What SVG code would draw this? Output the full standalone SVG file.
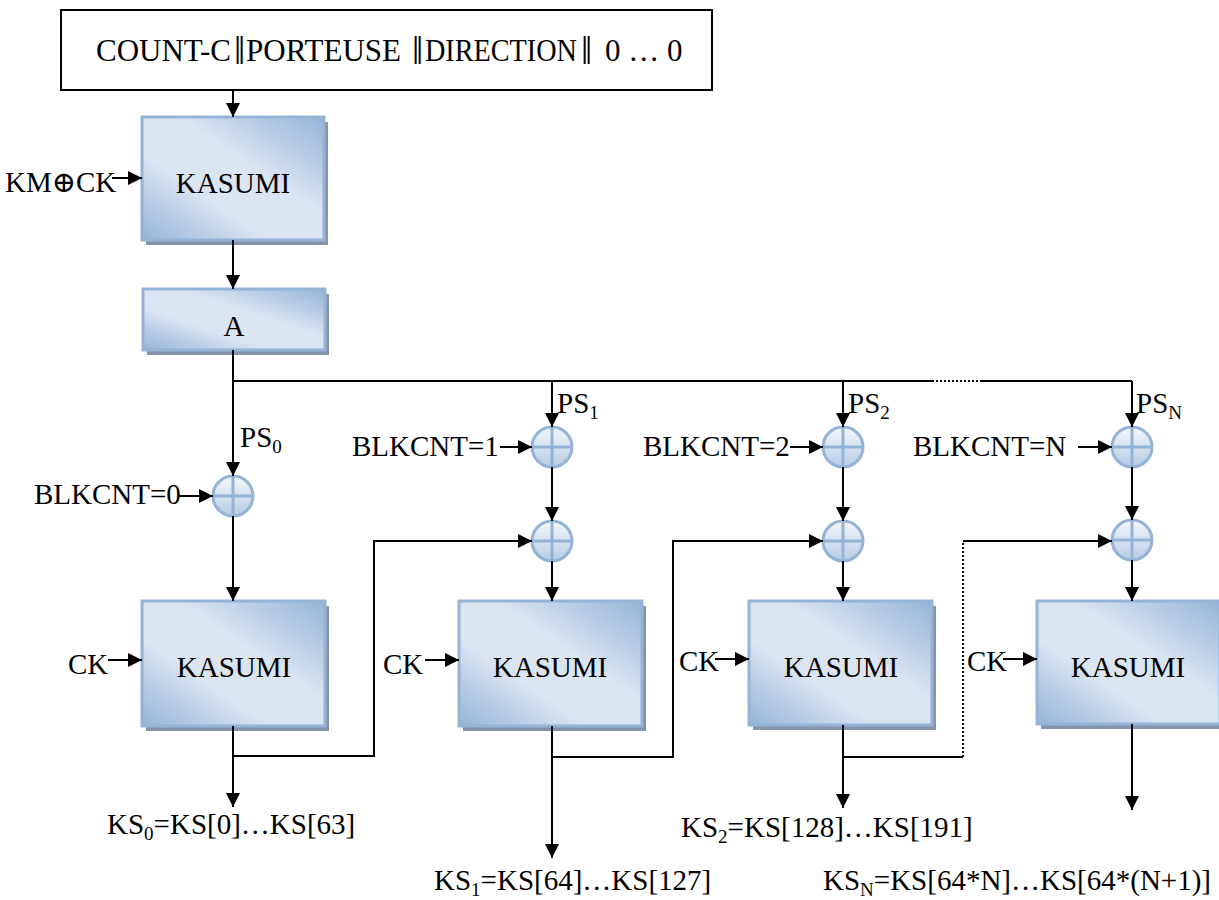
<svg xmlns="http://www.w3.org/2000/svg" width="1219" height="900" viewBox="0 0 1219 900">
<style>
text{font-family:'Liberation Serif','Tinos','DejaVu Serif',serif;font-size:29px;fill:#000}
.sub{font-size:19px}
.hd{font-size:31px}
.bar{font-size:40px}
.ln{stroke:#000;stroke-width:2;fill:none}
.dot{stroke:#000;stroke-width:2;fill:none;stroke-dasharray:2 2}
.box{fill:url(#bg);stroke:#95b3d7;stroke-width:3}
.sh{fill:#8594a8}
.xc{fill:url(#xg);stroke:#95b3d7;stroke-width:3}
.xl{stroke:#95b3d7;stroke-width:3}
</style>
<defs>
<linearGradient id="bg" x1="0" y1="1" x2="1" y2="0">
<stop offset="0" stop-color="#95b3d7"/>
<stop offset="0.35" stop-color="#dbe4f1"/>
<stop offset="0.6" stop-color="#dbe4f1"/>
<stop offset="1" stop-color="#95b3d7"/>
</linearGradient>
<linearGradient id="xg" x1="0" y1="0" x2="0" y2="1">
<stop offset="0" stop-color="#f4f7fb"/>
<stop offset="1" stop-color="#b8cce4"/>
</linearGradient>
<marker id="ar" viewBox="0 0 14 14" refX="14" refY="7" markerWidth="14" markerHeight="14" markerUnits="userSpaceOnUse" orient="auto">
<path d="M0,0 L14,7 L0,14 Z" fill="#000"/>
</marker>
</defs>

<g id="header">
<rect x="61" y="10" width="651" height="80" fill="#fff" stroke="#000" stroke-width="2"/>
<text class="hd" y="61"><tspan x="96">COUNT-C</tspan><tspan class="bar" x="234" dy="3">‖</tspan><tspan x="246" dy="-3" textLength="155" lengthAdjust="spacingAndGlyphs">PORTEUSE</tspan><tspan class="bar" x="412" dy="3">‖</tspan><tspan x="425" dy="-3" textLength="152" lengthAdjust="spacingAndGlyphs">DIRECTION</tspan><tspan class="bar" x="581" dy="3">‖</tspan><tspan x="605" dy="-3">0 … 0</tspan></text>
</g>

<g id="kasumi0">
<rect class="sh" x="146" y="122" width="182" height="123"/>
<rect class="box" x="142" y="117" width="182" height="123"/>
<text x="233" y="193" text-anchor="middle">KASUMI</text>
</g>
<g id="boxA">
<rect class="sh" x="147" y="294" width="182" height="61"/>
<rect class="box" x="143" y="289" width="182" height="61"/>
<text x="234" y="336" text-anchor="middle">A</text>
</g>

<g id="kasumi1">
<rect class="sh" x="146" y="606" width="183" height="125"/>
<rect class="box" x="142" y="601" width="183" height="125"/>
<text x="234" y="677" text-anchor="middle">KASUMI</text>
</g>
<g id="kasumi2">
<rect class="sh" x="463" y="606" width="183" height="125"/>
<rect class="box" x="459" y="601" width="183" height="125"/>
<text x="550" y="677" text-anchor="middle">KASUMI</text>
</g>
<g id="kasumi3">
<rect class="sh" x="753" y="606" width="183" height="124"/>
<rect class="box" x="749" y="601" width="183" height="124"/>
<text x="841" y="677" text-anchor="middle">KASUMI</text>
</g>
<g id="kasumi4">
<rect class="sh" x="1041" y="606" width="183" height="123"/>
<rect class="box" x="1037" y="601" width="183" height="123"/>
<text x="1128" y="677" text-anchor="middle">KASUMI</text>
</g>

<g id="xor0"><circle class="xc" cx="233" cy="496" r="20"/><path class="xl" d="M213,496H253M233,476V516"/></g>
<g id="xor1a"><circle class="xc" cx="552" cy="447" r="20"/><path class="xl" d="M532,447H572M552,427V467"/></g>
<g id="xor1b"><circle class="xc" cx="552" cy="541" r="20"/><path class="xl" d="M532,541H572M552,521V561"/></g>
<g id="xor2a"><circle class="xc" cx="843" cy="447" r="20"/><path class="xl" d="M823,447H863M843,427V467"/></g>
<g id="xor2b"><circle class="xc" cx="843" cy="541" r="20"/><path class="xl" d="M823,541H863M843,521V561"/></g>
<g id="xorNa"><circle class="xc" cx="1132" cy="447" r="20"/><path class="xl" d="M1112,447H1152M1132,427V467"/></g>
<g id="xorNb"><circle class="xc" cx="1132" cy="540" r="20"/><path class="xl" d="M1112,540H1152M1132,520V560"/></g>

<g id="connectors">
<path class="ln" d="M233,90V117" marker-end="url(#ar)"/>
<path class="ln" d="M112,178H142" marker-end="url(#ar)"/>
<path class="ln" d="M233,240V289" marker-end="url(#ar)"/>
<path class="ln" d="M233,350V476" marker-end="url(#ar)"/>
<path class="ln" d="M233,381H932"/>
<path class="dot" d="M932,381H980"/>
<path class="ln" d="M980,381H1132"/>
<path class="ln" d="M552,381V427" marker-end="url(#ar)"/>
<path class="ln" d="M843,381V427" marker-end="url(#ar)"/>
<path class="ln" d="M1132,381V427" marker-end="url(#ar)"/>
<path class="ln" d="M178,496H213" marker-end="url(#ar)"/>
<path class="ln" d="M500,447H532" marker-end="url(#ar)"/>
<path class="ln" d="M790,447H823" marker-end="url(#ar)"/>
<path class="ln" d="M1078,447H1112" marker-end="url(#ar)"/>
<path class="ln" d="M552,467V521" marker-end="url(#ar)"/>
<path class="ln" d="M843,467V521" marker-end="url(#ar)"/>
<path class="ln" d="M1132,467V520" marker-end="url(#ar)"/>
<path class="ln" d="M233,516V601" marker-end="url(#ar)"/>
<path class="ln" d="M552,561V601" marker-end="url(#ar)"/>
<path class="ln" d="M843,561V601" marker-end="url(#ar)"/>
<path class="ln" d="M1132,560V601" marker-end="url(#ar)"/>
<path class="ln" d="M108,660H142" marker-end="url(#ar)"/>
<path class="ln" d="M425,660H459" marker-end="url(#ar)"/>
<path class="ln" d="M715,659H749" marker-end="url(#ar)"/>
<path class="ln" d="M1003,659H1037" marker-end="url(#ar)"/>
<path class="ln" d="M233,726V807" marker-end="url(#ar)"/>
<path class="ln" d="M552,726V858" marker-end="url(#ar)"/>
<path class="ln" d="M843,725V808" marker-end="url(#ar)"/>
<path class="ln" d="M1132,724V810" marker-end="url(#ar)"/>
<path class="ln" d="M233,756H374V541H532" marker-end="url(#ar)"/>
<path class="ln" d="M552,757H673V541H823" marker-end="url(#ar)"/>
<path class="ln" d="M843,757H963"/>
<path class="dot" d="M963,757V541"/>
<path class="ln" d="M963,541H1112" marker-end="url(#ar)"/>
</g>

<g id="labels">
<text x="5" y="192">KM⊕CK</text>
<text x="240" y="447">PS<tspan class="sub" dy="6">0</tspan></text>
<text x="557" y="413">PS<tspan class="sub" dy="6">1</tspan></text>
<text x="848" y="413">PS<tspan class="sub" dy="6">2</tspan></text>
<text x="1136" y="413">PS<tspan class="sub" dy="6">N</tspan></text>
<text x="34" y="504">BLKCNT=0</text>
<text x="352" y="456">BLKCNT=1</text>
<text x="643" y="456">BLKCNT=2</text>
<text x="913" y="456">BLKCNT=N</text>
<text x="68" y="674">CK</text>
<text x="383" y="674">CK</text>
<text x="679" y="671">CK</text>
<text x="967" y="671">CK</text>
<text x="107" y="834">KS<tspan class="sub" dy="6">0</tspan><tspan dy="-6">=KS[0]…KS[63]</tspan></text>
<text x="434" y="890">KS<tspan class="sub" dy="6">1</tspan><tspan dy="-6">=KS[64]…KS[127]</tspan></text>
<text x="681" y="837">KS<tspan class="sub" dy="6">2</tspan><tspan dy="-6">=KS[128]…KS[191]</tspan></text>
<text x="823" y="890">KS<tspan class="sub" dy="6">N</tspan><tspan dy="-6">=KS[64*N]…KS[64*(N+1)]</tspan></text>
</g>
</svg>
